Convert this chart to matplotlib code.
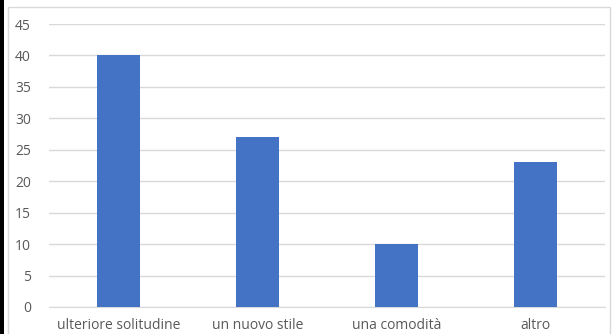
import matplotlib.pyplot as plt
from matplotlib.patches import Rectangle

categories = ["ulteriore solitudine", "un nuovo stile", "una comodità", "altro"]
values = [40, 27, 10, 23]
yticks = [0, 5, 10, 15, 20, 25, 30, 35, 40, 45]

W, H = 613, 334
fig = plt.figure(figsize=(W / 100, H / 100), dpi=100)
fig.patch.set_facecolor("white")

# black strip at the far left and the light chart frame
fig.patches.append(Rectangle((0, 0), 4 / W, 1, transform=fig.transFigure,
                             facecolor="black", edgecolor="none"))
fig.patches.append(Rectangle((8 / W, -0.05), 602 / W, 1.05 - 7 / H,
                             transform=fig.transFigure, facecolor="none",
                             edgecolor="#d9d9d9", linewidth=1))

ax = fig.add_axes([49 / W, 27 / H, 556 / W, (307 - 24) / H])
x = range(len(categories))
ax.bar(x, values, width=0.31, color="#4472C4", zorder=3)
ax.set_xlim(-0.5, len(categories) - 0.5)
ax.set_ylim(0, 45)
ax.set_yticks(yticks)
ax.set_xticks(list(x))
ax.set_xticklabels(categories)
ax.grid(axis="y", color="#d9d9d9", linewidth=1, zorder=0)
for s in ["top", "right", "left"]:
    ax.spines[s].set_visible(False)
ax.spines["bottom"].set_color("#d9d9d9")
ax.tick_params(length=0, labelsize=10, colors="#595959")
ax.tick_params(axis="y", pad=13)
ax.tick_params(axis="x", pad=8)
for lab in ax.get_xticklabels() + ax.get_yticklabels():
    lab.set_fontfamily("Open Sans")

fig.savefig("out.png", dpi=100)
